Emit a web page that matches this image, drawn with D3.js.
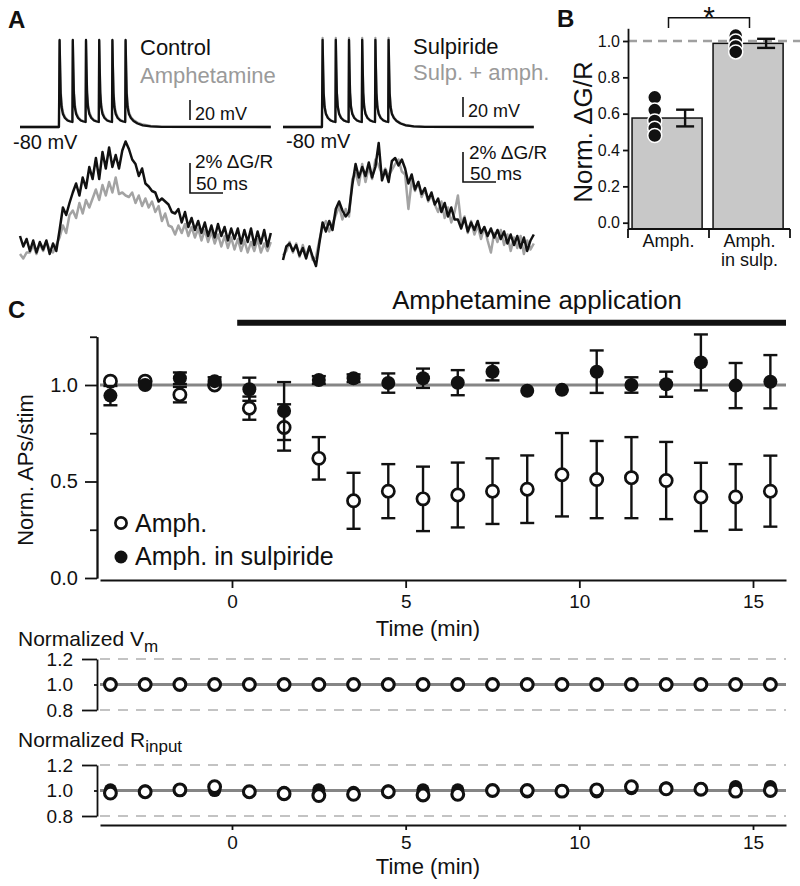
<!DOCTYPE html>
<html><head><meta charset="utf-8">
<script src="https://cdn.jsdelivr.net/npm/d3@7"></script>
<style>body{margin:0;background:#fff}svg{display:block}</style>
</head><body>
<svg id="fig" width="800" height="886"></svg>
<script>
// ================= DATA =================
// Panel A: membrane potential traces, [time ms, mV]
const vControl = [[0,-80],[59,-80],[60,7],[60.8,-22],[61.6,-46],[63,-60],[65,-67],[68,-71],[72,-73.5],[76,-74.5],[79.4,-75],[80,7],[80.8,-22],[81.6,-46],[83,-60],[85,-67],[88,-71],[92,-73.5],[96,-74.5],[99.4,-75],[100,7],[100.8,-22],[101.6,-46],[103,-60],[105,-67],[108,-71],[112,-73.5],[116,-74.5],[119.4,-75],[120,7],[120.8,-22],[121.6,-46],[123,-60],[125,-67],[128,-71],[132,-73.5],[136,-74.5],[139.4,-75],[140,7],[140.8,-22],[141.6,-46],[143,-60],[145,-67],[148,-71],[152,-73.5],[156,-74.5],[159.4,-75],[160,7],[160.8,-22],[161.6,-46],[163,-60],[165,-67],[168,-71],[172,-74],[178,-76.5],[186,-78.3],[198,-79.4],[215,-79.9],[380,-80]];
const vAmph = [[0,-80],[59,-80],[60,6],[60.8,-20],[61.6,-43],[63,-57],[65,-65],[68,-70],[72,-73],[76,-74],[79.4,-74.5],[80,6],[80.8,-20],[81.6,-43],[83,-57],[85,-65],[88,-70],[92,-73],[96,-74],[99.4,-74.5],[100,6],[100.8,-20],[101.6,-43],[103,-57],[105,-65],[108,-70],[112,-73],[116,-74],[119.4,-74.5],[120,6],[120.8,-20],[121.6,-43],[123,-57],[125,-65],[128,-70],[132,-73],[136,-74],[139.4,-74.5],[140,6],[140.8,-20],[141.6,-43],[143,-57],[145,-65],[148,-70],[152,-73],[156,-74],[159.4,-74.5],[160,6],[160.8,-20],[161.6,-43],[163,-57],[165,-65],[168,-70],[172,-73],[178,-75.5],[186,-77.5],[198,-79],[215,-79.8],[380,-80]];
const vSulp = [[0,-80],[59,-80],[60,7],[60.8,-22],[61.6,-46],[63,-60],[65,-67],[68,-71],[72,-73.5],[76,-74.5],[79.4,-75],[80,7],[80.8,-22],[81.6,-46],[83,-60],[85,-67],[88,-71],[92,-73.5],[96,-74.5],[99.4,-75],[100,7],[100.8,-22],[101.6,-46],[103,-60],[105,-67],[108,-71],[112,-73.5],[116,-74.5],[119.4,-75],[120,7],[120.8,-22],[121.6,-46],[123,-60],[125,-67],[128,-71],[132,-73.5],[136,-74.5],[139.4,-75],[140,7],[140.8,-22],[141.6,-46],[143,-60],[145,-67],[148,-71],[152,-73.5],[156,-74.5],[159.4,-75],[160,7],[160.8,-22],[161.6,-46],[163,-60],[165,-67],[168,-71],[172,-74],[178,-76.5],[186,-78.3],[198,-79.4],[215,-79.9],[380,-80]];
const vSulpAmph = [[0,-80],[59,-80],[60,9],[60.8,-21],[61.6,-45],[63,-59],[65,-66],[68,-70.5],[72,-73],[76,-74.5],[79.4,-75],[80,9],[80.8,-21],[81.6,-45],[83,-59],[85,-66],[88,-70.5],[92,-73],[96,-74.5],[99.4,-75],[100,9],[100.8,-21],[101.6,-45],[103,-59],[105,-66],[108,-70.5],[112,-73],[116,-74.5],[119.4,-75],[120,9],[120.8,-21],[121.6,-45],[123,-59],[125,-66],[128,-70.5],[132,-73],[136,-74.5],[139.4,-75],[140,9],[140.8,-21],[141.6,-45],[143,-59],[145,-66],[148,-70.5],[152,-73],[156,-74.5],[159.4,-75],[160,9],[160.8,-21],[161.6,-45],[163,-59],[165,-66],[168,-70.5],[172,-73.5],[178,-76],[186,-78],[198,-79.3],[215,-79.9],[380,-80]];

// Panel A: fluorescence traces (% dG/R), one sample every 5 ms from 0 ms
const fSampleMs = 5;
const fControl = [0.6,-0.1,0.4,-0.4,0.3,-0.5,0.2,-0.3,0.3,-0.6,0.1,-0.4,
  1.0,2.5,2.0,2.8,3.5,4.1,3.3,4.5,3.8,5.2,4.4,5.8,4.4,6.2,5.1,6.5,5.2,6.0,5.1,6.3,6.9,6.4,5.7,
  5.4,4.6,5.1,4.1,3.9,3.6,3.5,2.9,3.1,2.9,2.7,2.2,2.1,2.4,1.5,2.2,1.2,1.8,1.0,1.6,0.8,1.5,0.6,1.3,0.5,1.4,0.6,1.2,0.3,1.1,0.4,1.1,0.1,1.0,0.2,1.1,0.0,0.9,0.1,1.0,-0.1,0.8];
const fAmph = [-0.6,-0.9,-0.5,-0.5,0.0,-0.6,0.1,-0.4,0.2,-0.3,-0.5,0.0,
  0.5,1.3,0.8,2.0,2.3,1.8,2.8,2.1,3.0,2.5,3.1,3.7,3.0,4.0,3.3,4.2,3.5,4.5,3.4,3.5,3.3,3.2,3.5,
  2.8,3.3,2.6,3.1,2.5,2.9,2.2,2.6,1.6,2.1,1.3,1.2,0.7,1.3,0.8,1.4,0.6,1.2,0.5,1.1,0.3,1.0,0.2,0.9,0.1,0.7,-0.1,0.6,-0.2,0.5,-0.3,0.4,-0.4,0.3,-0.5,0.2,-0.4,0.4,-0.5,0.1,-0.4,0.2];
const fSulp = [-0.8,0.1,0.3,-0.2,0.2,-0.5,0.0,-0.7,0.1,-0.6,-1.2,0.3,
  1.7,1.1,1.8,1.2,2.6,3.1,2.5,2.1,2.4,4.2,5.6,4.7,5.4,4.8,5.7,4.7,5.4,7.0,4.5,5.2,4.4,5.8,6.0,
  5.5,5.9,5.3,4.3,4.9,3.9,4.4,3.6,4.0,3.2,3.7,2.9,3.3,2.4,3.0,2.1,2.7,1.9,1.9,1.3,2.0,1.1,1.7,1.2,1.8,1.0,1.4,0.8,1.3,0.7,1.2,0.6,1.1,0.3,0.9,0.2,0.8,0.0,0.7,-0.2,0.5,0.9];
const fSulpAmph = [-0.5,-0.2,0.4,-0.3,0.3,-0.6,0.2,-0.5,0.1,-0.8,-0.6,0.5,
  1.4,1.8,1.1,1.6,2.2,2.8,1.9,2.6,2.1,4.6,5.0,4.2,5.6,4.4,5.4,4.6,5.9,5.5,4.9,5.3,4.8,5.2,5.6,
  5.9,5.1,4.9,2.6,4.5,3.8,4.4,3.4,3.9,3.1,3.5,2.9,2.4,3.1,2.0,2.7,1.7,2.4,3.5,1.6,2.1,1.0,1.8,0.9,1.5,0.6,1.4,0.5,-0.3,1.0,0.4,1.2,0.2,0.9,-0.2,0.7,0.0,0.8,-0.4,0.5,-0.1,0.3];

// Panel B
const bCategories = ["Amph.", "Amph. in sulp."];
const bLabelLines = [["Amph."], ["Amph.", "in sulp."]];
const bMeans = [0.576, 0.987];
const bSem = [0.046, 0.025];
const bCells = [[0.69, 0.62, 0.56, 0.52, 0.48], [1.03, 1.0, 0.97, 0.94]];

// Panel C
const timeMin = [-3.5,-2.5,-1.5,-0.5,0.5,1.5,2.5,3.5,4.5,5.5,6.5,7.5,8.5,9.5,10.5,11.5,12.5,13.5,14.5,15.5];
const amphMean = [1.02,1.02,0.95,1.0,0.88,0.78,0.62,0.40,0.45,0.41,0.43,0.45,0.46,0.535,0.51,0.52,0.505,0.42,0.42,0.45];
const amphSem  = [0.01,0.01,0.04,0.01,0.06,0.12,0.11,0.145,0.14,0.167,0.168,0.17,0.175,0.216,0.2,0.21,0.2,0.177,0.17,0.184];
const sulpMean = [0.945,1.0,1.035,1.02,0.978,0.865,1.026,1.035,1.01,1.035,1.012,1.069,0.97,0.975,1.069,1.0,1.004,1.117,0.997,1.017];
const sulpSem  = [0.05,0.01,0.03,0.02,0.06,0.15,0.02,0.02,0.05,0.05,0.065,0.045,0.01,0.01,0.11,0.04,0.065,0.145,0.117,0.138];
const vmAmph   = [1.0,1.0,1.0,1.0,1.0,1.0,1.0,1.0,1.0,1.0,1.0,1.0,1.0,1.0,1.0,1.0,1.0,1.0,1.0,1.0];
const vmSulp   = [1.0,1.0,1.0,1.0,1.0,1.0,1.0,1.0,1.0,1.0,1.0,1.0,1.0,1.0,1.0,1.0,1.0,1.0,1.0,1.0];
const rinAmph  = [0.98,0.99,1.005,1.03,0.99,0.975,0.96,0.97,0.99,0.965,0.97,1.0,1.0,0.995,1.005,1.03,1.013,1.01,0.995,1.0];
const rinSulp  = [1.005,0.995,1.0,1.0,0.99,0.985,1.005,0.985,0.995,1.005,1.005,1.0,0.99,1.0,0.99,1.015,1.02,1.015,1.03,1.03];
const cMajorTicks = [0, 0.5, 1.0];
const cMinorTicks = [0.25, 0.75, 1.25];
const timeTicks = [0, 5, 10, 15];
const smallTicks = [0.8, 1.2];

// ================= DRAWING =================
const FONT = "'Liberation Sans', Arial, Helvetica, sans-serif";
const svg = d3.select("#fig").style("font-family", FONT);
const INK = "#111";
const GRAYTXT = "#9a9a9a";
const GRAYTR = "#a3a3a3";

function label(x, y, s, size, o = {}) {
  const t = svg.append("text").attr("x", x).attr("y", y).attr("font-size", size).attr("fill", o.fill || INK).text(s);
  if (o.anchor) t.attr("text-anchor", o.anchor);
  if (o.weight) t.attr("font-weight", o.weight);
  return t;
}
function seg(x1, y1, x2, y2, w, c, dash) {
  const l = svg.append("line").attr("x1", x1).attr("y1", y1).attr("x2", x2).attr("y2", y2)
    .attr("stroke", c || INK).attr("stroke-width", w || 1.5);
  if (dash) l.attr("stroke-dasharray", dash);
  return l;
}
function styleAxis(g, fs) {
  g.select(".domain").attr("stroke", INK).attr("stroke-width", 1.8);
  g.selectAll(".tick line").attr("stroke", INK).attr("stroke-width", 1.8);
  g.selectAll(".tick text").attr("fill", INK).attr("font-size", fs).attr("font-family", FONT);
}

// ---------- Panel A ----------
const msPx = 0.66;
const xAL = d3.scaleLinear().domain([0, 380]).range([20, 20 + 380 * msPx]);
const xAR = d3.scaleLinear().domain([0, 380]).range([283, 283 + 380 * msPx]);
const yV = d3.scaleLinear().domain([-80, 7]).range([127, 40]);
const yFL = d3.scaleLinear().domain([0, 7]).range([245, 140]);
const yFR = d3.scaleLinear().domain([0, 7]).range([248, 143]);

function drawV(data, xs, color) {
  svg.append("path").datum(data)
    .attr("d", d3.line().x(d => xs(d[0])).y(d => yV(d[1])))
    .attr("fill", "none").attr("stroke", color).attr("stroke-width", 2.3).attr("stroke-linejoin", "round");
}
function drawF(vals, xs, ys, color) {
  svg.append("path").datum(vals)
    .attr("d", d3.line().x((d, i) => xs(i * fSampleMs)).y(d => ys(d)))
    .attr("fill", "none").attr("stroke", color).attr("stroke-width", 2.5).attr("stroke-linejoin", "round");
}
drawV(vAmph, xAL, GRAYTR); drawV(vControl, xAL, INK);
drawV(vSulpAmph, xAR, GRAYTR); drawV(vSulp, xAR, INK);
drawF(fAmph, xAL, yFL, GRAYTR); drawF(fControl, xAL, yFL, INK);
drawF(fSulpAmph, xAR, yFR, GRAYTR); drawF(fSulp, xAR, yFR, INK);

label(8, 28, "A", 24, { weight: "bold" });
label(140, 55, "Control", 22);
label(140, 83, "Amphetamine", 22, { fill: GRAYTXT });
label(413, 54, "Sulpiride", 22);
label(413, 80, "Sulp. + amph.", 22, { fill: GRAYTXT });
label(13, 149, "-80 mV", 20);
label(286, 148, "-80 mV", 20);
// 20 mV scale bars
const mv20 = yV(-80) - yV(-60);
seg(190, 120 - mv20, 190, 120, 1.6); label(195, 120, "20 mV", 18);
seg(463, 117 - mv20, 463, 117, 1.6); label(468, 117, "20 mV", 18);
// 2% dG/R and 50 ms scale bars
const pct2 = yFL(0) - yFL(2), ms50 = xAL(50) - xAL(0);
svg.append("path").attr("d", `M190,${193 - pct2}V193H${190 + ms50}`).attr("fill", "none").attr("stroke", INK).attr("stroke-width", 1.6);
label(195, 168, "2% \u0394G/R", 19); label(196, 190, "50 ms", 19);
svg.append("path").attr("d", `M463,${182 - pct2}V182H${463 + ms50}`).attr("fill", "none").attr("stroke", INK).attr("stroke-width", 1.6);
label(469, 159, "2% \u0394G/R", 19); label(470, 180, "50 ms", 19);

// ---------- Panel B ----------
const yB = d3.scaleLinear().domain([0, 1]).range([222.7, 41]);
const xB = d3.scaleBand().domain(bCategories).range([628, 790]);
const bw = xB.bandwidth();
const bBase = 229;
label(557, 27, "B", 24, { weight: "bold" });
seg(628, yB(1), 800, yB(1), 2.5, "#a0a0a0", "9,6");
bCategories.forEach((c, i) => {
  svg.append("rect").attr("x", xB(c) + bw * 0.05).attr("y", yB(bMeans[i]))
    .attr("width", bw * 0.865).attr("height", bBase - yB(bMeans[i]))
    .attr("fill", "#c8c8c8").attr("stroke", INK).attr("stroke-width", 1.5);
});
const yBax = yB.copy().domain([-0.035, 1.07]).range([yB(-0.035), yB(1.07)]);
const gB = svg.append("g").attr("transform", "translate(628,0)")
  .call(d3.axisLeft(yBax).tickValues([0, 0.2, 0.4, 0.6, 0.8, 1.0]).tickFormat(d3.format(".1f")).tickSize(5).tickSizeOuter(0).tickPadding(3));
styleAxis(gB, 16);
seg(628, bBase, 790, bBase, 1.8);
[xB(bCategories[0]), xB(bCategories[1]), xB(bCategories[1]) + bw].forEach(x => seg(x, bBase, x, bBase + 9, 1.8));
bCategories.forEach((c, i) => {
  bLabelLines[i].forEach((s, j) => label(xB(c) + bw / 2, 247 + j * 19, s, 18, { anchor: "middle" }));
});
bCategories.forEach((c, i) => {
  bCells[i].forEach(v => {
    svg.append("circle").attr("cx", xB(c) + bw * 0.33).attr("cy", yB(v)).attr("r", 7)
      .attr("fill", INK).attr("stroke", "#fff").attr("stroke-width", 1.5);
  });
  const ex = xB(c) + bw * 0.705;
  seg(ex, yB(bMeans[i] - bSem[i]), ex, yB(bMeans[i] + bSem[i]), 2.4);
  seg(ex - 9, yB(bMeans[i] - bSem[i]), ex + 9, yB(bMeans[i] - bSem[i]), 2.4);
  seg(ex - 9, yB(bMeans[i] + bSem[i]), ex + 9, yB(bMeans[i] + bSem[i]), 2.4);
});
const c1 = xB(bCategories[0]) + bw / 2, c2 = xB(bCategories[1]) + bw / 2;
svg.append("path").attr("d", `M${c1},28V17.7H${c2}V28`).attr("fill", "none").attr("stroke", INK).attr("stroke-width", 1.5);
label((c1 + c2) / 2, 27, "*", 30, { anchor: "middle" });
label(0, 0, "Norm. \u0394G/R", 26, { anchor: "middle" }).attr("transform", "translate(592,132) rotate(-90)");

// ---------- Panel C ----------
const xC = d3.scaleLinear().domain([-3.8, 15.95]).range([100, 786]);
const yC = d3.scaleLinear().domain([0, 1.25]).range([578, 336.75]);
label(8, 318, "C", 24, { weight: "bold" });
label(537, 309, "Amphetamine application", 25.8, { anchor: "middle" });
seg(xC(0.15), 322.7, 786, 322.7, 6);

seg(100, yC(1), 786, yC(1), 2.8, "#858585");
const gCy = svg.append("g").attr("transform", "translate(97,0)")
  .call(d3.axisLeft(yC).tickValues(cMajorTicks).tickFormat(d3.format(".1f")).tickSize(12).tickSizeOuter(0).tickPadding(7));
styleAxis(gCy, 20);
const gCy2 = svg.append("g").attr("transform", "translate(97,0)")
  .call(d3.axisLeft(yC).tickValues(cMinorTicks).tickFormat("").tickSize(7).tickSizeOuter(0));
styleAxis(gCy2, 20);
const gCx = svg.append("g").attr("transform", "translate(0,580)")
  .call(d3.axisBottom(xC).tickValues(timeTicks).tickSize(8).tickSizeOuter(0).tickPadding(7));
styleAxis(gCx, 19);
label(428, 636, "Time (min)", 22, { anchor: "middle" });
label(0, 0, "Norm. APs/stim", 22, { anchor: "middle" }).attr("transform", "translate(33,470) rotate(-90)");

function errSeries(mean, sem, cap) {
  timeMin.forEach((t, i) => {
    if (sem[i] < 0.015) return;
    const x = xC(t), lo = yC(mean[i] - sem[i]), hi = yC(mean[i] + sem[i]);
    seg(x, lo, x, hi, 2.4);
    seg(x - cap, lo, x + cap, lo, 2.4);
    seg(x - cap, hi, x + cap, hi, 2.4);
  });
}
errSeries(amphMean, amphSem, 7);
timeMin.forEach((t, i) => svg.append("circle").attr("cx", xC(t)).attr("cy", yC(amphMean[i])).attr("r", 6.1)
  .attr("fill", "#fff").attr("stroke", INK).attr("stroke-width", 2.7));
errSeries(sulpMean, sulpSem, 7);
timeMin.forEach((t, i) => svg.append("circle").attr("cx", xC(t)).attr("cy", yC(sulpMean[i])).attr("r", 7)
  .attr("fill", INK));
svg.append("circle").attr("cx", 121).attr("cy", 523).attr("r", 5.6).attr("fill", "#fff").attr("stroke", INK).attr("stroke-width", 2.7);
label(135, 532, "Amph.", 25);
svg.append("circle").attr("cx", 121).attr("cy", 557).attr("r", 6.5).attr("fill", INK);
label(135, 565, "Amph. in sulpiride", 25);

// ---------- Vm and Rinput panels ----------
function smallPanel(top, bottom, filled, open, title, sub, titleY, subDy) {
  const ys = d3.scaleLinear().domain([0.8, 1.2]).range([bottom, top]);
  const t = label(18, titleY, title, 21);
  t.append("tspan").attr("font-size", 17).attr("dy", subDy).text(sub);
  smallTicks.forEach(v => seg(100, ys(v), 786, ys(v), 1.3, "#b0b0b0", "10,8"));
  seg(100, ys(1), 786, ys(1), 3, "#858585");
  const g1 = svg.append("g").attr("transform", "translate(97,0)")
    .call(d3.axisLeft(ys).tickValues(smallTicks).tickFormat(d3.format(".1f")).tickSize(15).tickSizeOuter(0).tickPadding(9));
  styleAxis(g1, 19);
  const g2 = svg.append("g").attr("transform", "translate(97,0)")
    .call(d3.axisLeft(ys).tickValues([1.0]).tickFormat(d3.format(".1f")).tickSize(3).tickSizeOuter(0).tickPadding(21));
  styleAxis(g2, 19);
  g2.select(".domain").remove();
  timeMin.forEach((tm, i) => svg.append("circle").attr("cx", xC(tm)).attr("cy", ys(filled[i])).attr("r", 6.6).attr("fill", INK));
  timeMin.forEach((tm, i) => svg.append("circle").attr("cx", xC(tm)).attr("cy", ys(open[i])).attr("r", 5.9)
    .attr("fill", "#fff").attr("stroke", INK).attr("stroke-width", 3.1));
}
smallPanel(659, 710, vmSulp, vmAmph, "Normalized V", "m", 646, 6);
smallPanel(765, 816, rinSulp, rinAmph, "Normalized R", "input", 747, 5);
const gBx = svg.append("g").attr("transform", "translate(0,825)")
  .call(d3.axisBottom(xC).tickValues(timeTicks).tickSize(5).tickSizeOuter(0).tickPadding(6));
styleAxis(gBx, 19);
label(428, 874, "Time (min)", 22, { anchor: "middle" });
</script>
</body></html>
